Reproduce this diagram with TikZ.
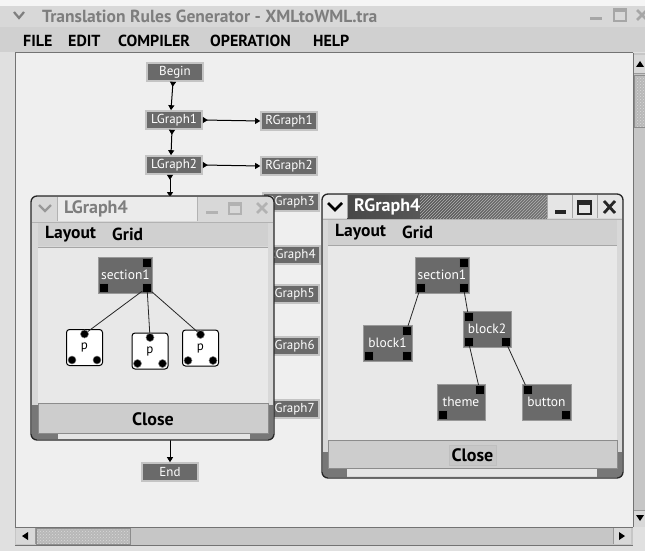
\documentclass[tikz,border=0pt]{standalone}
\usepackage{fontspec}
\setmainfont{PT Sans}
\usetikzlibrary{arrows.meta,patterns}
\definecolor{screenbg}{HTML}{E0E0E0}
\definecolor{canvasbg}{HTML}{EFEFEF}
\definecolor{chrome}{HTML}{D8D8D8}
\definecolor{menubg}{HTML}{D0D0D0}
\definecolor{nodegray}{HTML}{6A6A6A}
\definecolor{rimgray}{HTML}{C4C4C4}
\definecolor{winbg}{HTML}{E8E8E8}
\definecolor{closebg}{HTML}{CDCDCD}
\definecolor{titletxt}{HTML}{7E7E7E}
\definecolor{track}{HTML}{C6C6C6}
\definecolor{framedark}{HTML}{777777}
\begin{document}
\begin{tikzpicture}[x=1pt,y=-1pt,
  flow/.style={draw=rimgray, line width=1.6pt, fill=nodegray, text=white,
    minimum width=56pt, minimum height=18pt, inner sep=0pt,
    font=\fontsize{13}{13}\selectfont},
  gnode/.style={draw=black!40, line width=0.4pt, fill=nodegray, text=white,
    inner sep=0pt, font=\fontsize{13.5}{14}\selectfont},
  port/.style={fill=black, draw=black!60, line width=0.3pt, minimum size=9pt, inner sep=0pt},
  pnode/.style={draw=black, line width=1pt, fill=white, rounded corners=3pt,
    minimum size=36pt, inner sep=0pt, font=\fontsize{13}{13}\selectfont},
  pport/.style={circle, fill=black, draw=black!50, line width=0.5pt, minimum size=8pt, inner sep=0pt},
  link/.style={line width=1pt, {Triangle[reversed,length=5pt,width=6pt]}-{Triangle[length=5pt,width=6pt]}},
  gedge/.style={line width=0.8pt, black!85},
  menutxt/.style={font=\bfseries\fontsize{16}{16}\selectfont, anchor=west, inner sep=0pt},
  wmenu/.style={font=\bfseries\fontsize{17.5}{18}\selectfont, anchor=west, inner sep=0pt},
  closetxt/.style={font=\bfseries\fontsize{18}{18}\selectfont, inner sep=0pt},
  frame/.style={draw=black!85, line width=1.3pt, rounded corners=6pt}
]
\useasboundingbox (0,0) rectangle (645,551);
% ---------- main window ----------
\fill[screenbg] (0,0) rectangle (645,551);
\fill[white!96!black] (0,0) rectangle (645,6);
\fill[chrome] (0,6) rectangle (645,27);
\draw[black!25] (0,27) -- (645,27);
\fill[menubg] (0,27.5) rectangle (645,52);
\fill[canvasbg] (15,53) rectangle (633,527);
\draw[black!55, line width=1pt] (15,527) -- (15,53) -- (633,53);
\node[anchor=west, text=titletxt, font=\bfseries\fontsize{17.5}{18}\selectfont, inner sep=0pt]
  (apptitle) at (42,16) {Translation Rules Generator - XMLtoWML.tra};
\draw[titletxt, line width=2.2pt] (14,12) -- (19,18) -- (24,12);
\fill[black!35] (590,17) rectangle (602,20);
\draw[black!35, line width=1.2pt] (614,9) rectangle (626,21);
\fill[black!35] (614,9) rectangle (626,12);
\draw[black!35, line width=2.5pt] (637,10) -- (647,20) (637,20) -- (647,10);
\node[menutxt] (mfile) at (23,41) {FILE};
\node[menutxt] (medit) at (68,41) {EDIT};
\node[menutxt] (mcomp) at (118,41) {COMPILER};
\node[menutxt] (mop) at (210,41) {OPERATION};
\node[menutxt] (mhelp) at (313,41) {HELP};
% ---------- flow graph ----------
\node[flow] (Begin) at (175,72) {Begin};
\node[flow] (LGraph1) at (174,120) {LGraph1};
\node[flow] (RGraph1) at (289,121) {RGraph1};
\node[flow] (LGraph2) at (174,165) {LGraph2};
\node[flow] (RGraph2) at (289,166) {RGraph2};
\node[flow] (RGraph3) at (291,202) {RGraph3};
\node[flow] (RGraph4) at (292,255) {RGraph4};
\node[flow] (RGraph5) at (291,294) {RGraph5};
\node[flow] (RGraph6) at (291,346) {RGraph6};
\node[flow] (RGraph7) at (291,409) {RGraph7};
\node[flow] (End) at (170,472) {End};
\coordinate (lg3top) at (170,197);
\coordinate (lg7bot) at (170,440);
\draw[link] ([xshift=-2pt]Begin.south) -- ([xshift=-3pt]LGraph1.north);
\draw[link] ([xshift=-2pt]LGraph1.south) -- ([xshift=-3pt]LGraph2.north);
\draw[link] (LGraph1.east) -- (RGraph1.west);
\draw[link] (LGraph2.east) -- (RGraph2.west);
\draw[link] (LGraph2.south -| lg3top) -- (lg3top);
\draw[line width=1pt, -{Triangle[length=5pt,width=6pt]}] (lg7bot) -- (End.north);
% ---------- LGraph4 window ----------
\fill[chrome, rounded corners=6pt] (31,196) rectangle (274,440);
\fill[white!92!black] (58,197) rectangle (197,221);
\draw[black!30] (57,197) -- (57,221) (197,197) -- (197,221);
\draw[black!30] (32,222) -- (273,222);
\draw[titletxt!80, line width=2.2pt] (39,205) -- (45,211) -- (51,205);
\node[anchor=west, text=titletxt, font=\bfseries\fontsize{18}{18}\selectfont, inner sep=0pt]
  (lg4title) at (64,209) {LGraph4};
\fill[black!30] (206,211) rectangle (218,214);
\draw[black!30, line width=1.2pt] (229,203) rectangle (241,214);
\fill[black!30] (229,203) rectangle (241,206);
\draw[black!30, line width=2.6pt] (257,203) -- (267,213) (257,213) -- (267,203);
\fill[menubg] (38,222.5) rectangle (268,246);
\node[wmenu] (lg4layout) at (45,234) {Layout};
\node[wmenu] (lg4grid) at (112,234) {Grid};
\fill[winbg] (38,247) rectangle (268,403);
\draw[black!35] (38,247) -- (268,247);
\fill[closebg] (38,403) rectangle (268,433);
\draw[black!45] (38,403) rectangle (268,433);
\draw[white!80!black] (39.5,404.5) -- (266.5,404.5);
\node[closetxt] (lg4close) at (153,419) {Close};
\fill[framedark] (32,405) rectangle (37.5,439);
\fill[framedark] (268.5,405) rectangle (273,439);
\fill[framedark] (32,433.5) rectangle (58,439);
\fill[white!90!black] (58,434) rectangle (250,438.5);
\fill[framedark] (250,433.5) rectangle (273,439);
\draw[frame] (31,196) rectangle (274,440);
% graph in LGraph4
\node[gnode, minimum width=54pt, minimum height=36pt] (ls1) at (125.5,275) {section1};
\node[port, anchor=north east] (ls1-tr) at ([xshift=-1pt,yshift=-1pt]ls1.north east) {};
\node[port, anchor=south west] (ls1-bl) at ([xshift=1pt,yshift=1pt]ls1.south west) {};
\node[port, anchor=south east] (ls1-br) at ([xshift=-1pt,yshift=1pt]ls1.south east) {};
\node[pnode] (p1) at (84.5,347.5) {p};
\node[pnode] (p2) at (150,351) {p};
\node[pnode] (p3) at (200.5,348) {p};
\foreach \n in {p1,p2,p3}{
  \node[pport] (\n-t) at ([yshift=-5pt]\n.north) {};
  \node[pport] (\n-l) at ([xshift=6pt,yshift=6pt]\n.south west) {};
  \node[pport] (\n-r) at ([xshift=-6pt,yshift=6pt]\n.south east) {};
}
\draw[gedge] (ls1-br) -- (p1-t);
\draw[gedge] (ls1-br) -- (p2-t);
\draw[gedge] (ls1-br) -- (p3-t);
% ---------- RGraph4 window ----------
\fill[chrome, rounded corners=6pt] (322,194) rectangle (623,478);
\fill[white!92!black] (323,195) rectangle (347,218);
\fill[white!90!black] (547,195) rectangle (622,218);
\shade[left color=black!72, right color=black!55] (347,195) rectangle (547,218);
\fill[pattern=north east lines, pattern color=white!70!black] (420,195) rectangle (547,218);
\draw[black!35] (347,195) -- (347,218) (547,195) -- (547,218) (572,195) -- (572,218) (597,195) -- (597,218);
\draw[black!30] (323,219) -- (622,219);
\draw[black, line width=2.6pt] (328,203) -- (335,210) -- (342,203);
\node[anchor=west, text=white, font=\bfseries\fontsize{18}{18}\selectfont, inner sep=0pt]
  (rg4title) at (354,207) {RGraph4};
\fill[black!85] (555,210) rectangle (566,214);
\draw[black!85, line width=1.4pt] (578,201) rectangle (591,214);
\fill[black!85] (578,201) rectangle (591,205);
\draw[black!85, line width=2.8pt] (604,201) -- (615,213) (604,213) -- (615,201);
\fill[menubg] (328,219.5) rectangle (617,245);
\node[wmenu] (rg4layout) at (335,232) {Layout};
\node[wmenu] (rg4grid) at (402,232) {Grid};
\fill[winbg] (328,245) rectangle (617,440);
\draw[black!35] (328,245) -- (617,245);
\fill[closebg] (328,440) rectangle (617,468);
\draw[black!45] (328,440) rectangle (617,468);
\draw[white!80!black] (329.5,441.5) -- (615.5,441.5);
\fill[black!22] (449,445) rectangle (496,465);
\draw[white!75!black] (449,445) rectangle (496,465);
\node[closetxt] (rg4close) at (472.5,455) {Close};
\fill[framedark] (323,452) rectangle (327.5,477);
\fill[framedark] (617.5,452) rectangle (622,477);
\fill[framedark] (323,468.5) rectangle (347,477);
\fill[white!90!black] (347,469) rectangle (597,476);
\fill[framedark] (597,468.5) rectangle (622,477);
\draw[frame] (322,194) rectangle (623,478);
% graph in RGraph4
\node[gnode, minimum width=54pt, minimum height=36pt] (rs1) at (442,275) {section1};
\node[gnode, minimum width=49pt, minimum height=36pt] (b1) at (387.5,343) {block1};
\node[gnode, minimum width=48pt, minimum height=36pt] (b2) at (487,329) {block2};
\node[gnode, minimum width=48pt, minimum height=36pt] (th) at (461,402) {theme};
\node[gnode, minimum width=49pt, minimum height=36pt] (bt) at (546.5,402) {button};
\node[port, anchor=north east] (rs1-tr) at ([xshift=-1pt,yshift=-1pt]rs1.north east) {};
\node[port, anchor=south west] (rs1-bl) at ([xshift=1pt,yshift=1pt]rs1.south west) {};
\node[port, anchor=south east] (rs1-br) at ([xshift=-1pt,yshift=1pt]rs1.south east) {};
\node[port, anchor=north east] (b1-tr) at ([xshift=-1pt,yshift=-1pt]b1.north east) {};
\node[port, anchor=south west] (b1-bl) at ([xshift=1pt,yshift=1pt]b1.south west) {};
\node[port, anchor=south east] (b1-br) at ([xshift=-1pt,yshift=1pt]b1.south east) {};
\node[port, anchor=north west] (b2-tl) at ([xshift=1pt,yshift=-1pt]b2.north west) {};
\node[port, anchor=south west] (b2-bl) at ([xshift=1pt,yshift=1pt]b2.south west) {};
\node[port, anchor=south east] (b2-br) at ([xshift=-1pt,yshift=1pt]b2.south east) {};
\node[port, anchor=north east] (th-tr) at ([xshift=-1pt,yshift=-1pt]th.north east) {};
\node[port, anchor=south west] (th-bl) at ([xshift=1pt,yshift=1pt]th.south west) {};
\node[port, anchor=north west] (bt-tl) at ([xshift=1pt,yshift=-1pt]bt.north west) {};
\node[port, anchor=south east] (bt-br) at ([xshift=-1pt,yshift=1pt]bt.south east) {};
\draw[gedge] (rs1-bl) -- (b1-tr);
\draw[gedge] (rs1-br) -- (b2-tl);
\draw[gedge] (b2-bl) -- (th-tr);
\draw[gedge] (b2-br) -- (bt-tl);
% ---------- scrollbars ----------
\fill[track] (633,53) rectangle (645,527);
\draw[black!55] (633,53) -- (633,527);
\fill[chrome] (634,55) rectangle (645,73);
\draw[black!40] (634,73) -- (645,73);
\fill[black] (636,67) -- (640,61) -- (644,67) -- cycle;
\fill[black!28] (634,75) rectangle (645,127);
\fill[pattern=crosshatch dots, pattern color=white!85!black] (634,75) rectangle (645,127);
\draw[black!45] (634,75) rectangle (645,127);
\fill[chrome] (634,510) rectangle (645,527);
\draw[black!40] (634,510) -- (645,510);
\fill[black] (636,515) -- (644,515) -- (640,521) -- cycle;
\fill[track] (15,527) rectangle (633,545);
\draw[black!55] (15,527) -- (633,527) (15,545) -- (633,545);
\fill[chrome] (16,528) rectangle (35,544);
\draw[black!40] (35,528) -- (35,544);
\fill[black] (28,532) -- (22,536) -- (28,540) -- cycle;
\fill[black!28] (36,528) rectangle (130,544);
\fill[pattern=crosshatch dots, pattern color=white!85!black] (36,528) rectangle (130,544);
\draw[black!45] (36,528) rectangle (130,544);
\fill[chrome] (613,528) rectangle (631,544);
\draw[black!40] (613,528) -- (613,544);
\fill[black] (619,532) -- (625,536) -- (619,540) -- cycle;
\fill[screenbg] (633.5,527.5) rectangle (645,545);
\end{tikzpicture}
\end{document}
